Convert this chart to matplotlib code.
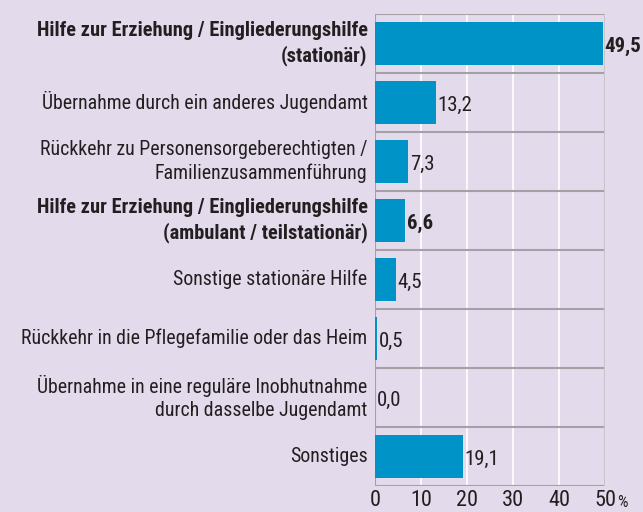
import matplotlib.pyplot as plt
import numpy as np

# Gründe für die Beendigung (Anteile in %)
labels = [
    "Hilfe zur Erziehung / Eingliederungshilfe\n(stationär)",
    "Übernahme durch ein anderes Jugendamt",
    "Rückkehr zu Personensorgeberechtigten /\nFamilienzusammenführung",
    "Hilfe zur Erziehung / Eingliederungshilfe\n(ambulant / teilstationär)",
    "Sonstige stationäre Hilfe",
    "Rückkehr in die Pflegefamilie oder das Heim",
    "Übernahme in eine reguläre Inobhutnahme\ndurch dasselbe Jugendamt",
    "Sonstiges",
]
values = [49.5, 13.2, 7.3, 6.6, 4.5, 0.5, 0.0, 19.1]
bold = [True, False, False, True, False, False, False, False]
xticks = [0, 10, 20, 30, 40, 50]

bg = "#e3dbeb"
bar_col = "#0093c7"
txt_col = "#231f20"
sep_col = "#a3a0a6"

plt.rcParams["font.family"] = ["Roboto Condensed", "DejaVu Sans"]

fig = plt.figure(figsize=(6.43, 5.12), dpi=100, facecolor=bg)
ax = fig.add_axes([0.583, 0.0508, 0.358, 0.9219])
ax.set_facecolor(bg)

n = len(values)
y = np.arange(n)
ax.barh(y, values, height=0.72, color=bar_col, zorder=3)

ax.set_ylim(n - 0.5, -0.5)
ax.set_xlim(0, 50)

# white vertical grid, grey separators between rows
for xv in xticks[1:-1]:
    ax.axvline(xv, color="white", lw=1.2, zorder=1)
for yv in np.arange(-0.5, n, 1.0):
    ax.axhline(yv, color=sep_col, lw=1.5, zorder=2)
ax.axvline(0, color=sep_col, lw=1.5, zorder=2)
ax.axvline(50, color="#c8c4cc", lw=1.5, zorder=2)

for s in ax.spines.values():
    s.set_visible(False)

ax.set_yticks([])
ax.set_xticks(xticks)
ax.set_xticklabels([str(t) for t in xticks], fontsize=16, color=txt_col)
ax.tick_params(axis="x", length=0, pad=3)
ax.text(1.075, -0.036, "%", transform=ax.transAxes, fontsize=12,
        color=txt_col, ha="center", va="center")

for i, (lab, v, b) in enumerate(zip(labels, values, bold)):
    w = "bold" if b else "normal"
    ax.text(-1.6, i, lab, ha="right", va="center",
            fontsize=14.7 if b else 14.3,
            fontweight=w, color=txt_col, linespacing=1.3)
    ax.text(v + 0.4, i + 0.05, f"{v:.1f}".replace(".", ","), ha="left",
            va="center", fontsize=15, fontweight=w, color=txt_col, zorder=4)

fig.savefig("out.png", dpi=100, facecolor=bg)
